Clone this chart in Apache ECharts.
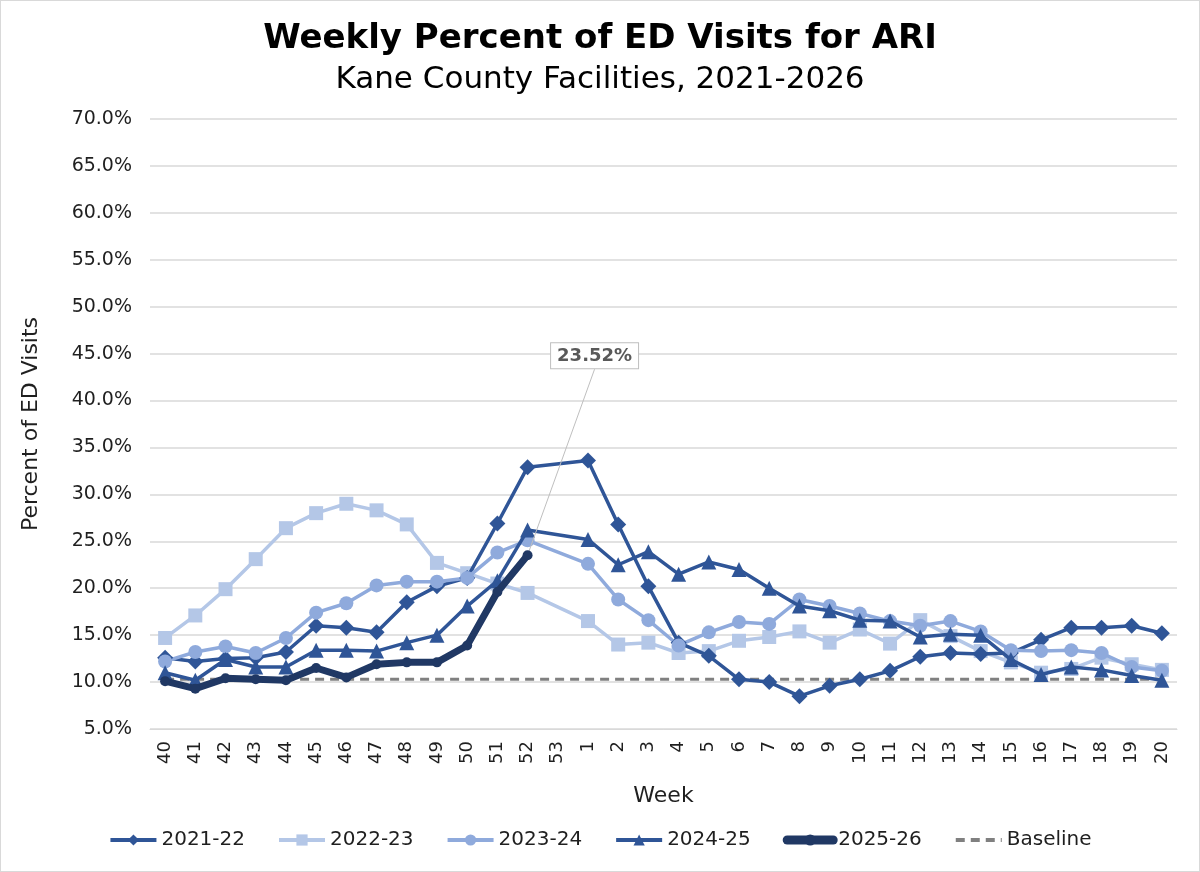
<!DOCTYPE html>
<html>
<head>
<meta charset="utf-8">
<script src="https://cdn.jsdelivr.net/npm/echarts@6/dist/echarts.min.js"></script>
<style>
html,body{margin:0;padding:0;background:#fff;}
#c{width:1198px;height:870px;border:1px solid #d9d9d9;}
</style>
</head>
<body>
<div id="c"></div>
<script>
var weeks = ['40','41','42','43','44','45','46','47','48','49','50','51','52','53','1','2','3','4','5','6','7','8','9','10','11','12','13','14','15','16','17','18','19','20'];
var s2122 = [12.6,12.2,12.5,12.6,13.2,16.0,15.8,15.3,18.5,20.2,21.1,26.9,32.9,'-',33.6,26.8,20.2,14.2,12.8,10.3,10.0,8.5,9.6,10.3,11.2,12.7,13.1,13.0,13.1,14.5,15.8,15.8,16.0,15.2];
var s2223 = [14.7,17.1,19.9,23.1,26.4,28.0,29.0,28.3,26.8,22.7,21.6,20.5,19.5,'-',16.5,14.0,14.2,13.1,13.3,14.4,14.8,15.4,14.2,15.6,14.1,16.6,14.9,13.3,12.1,11.0,11.4,12.6,11.9,11.3];
var s2324 = [12.2,13.2,13.8,13.1,14.7,17.4,18.4,20.3,20.7,20.7,21.1,23.8,25.1,'-',22.6,18.8,16.6,13.9,15.3,16.4,16.2,18.8,18.1,17.3,16.5,16.0,16.5,15.4,13.4,13.3,13.4,13.1,11.6,11.2];
var s2425 = [11.0,10.2,12.4,11.6,11.6,13.4,13.4,13.3,14.2,15.0,18.1,20.8,26.2,'-',25.2,22.5,23.9,21.5,22.8,22.0,20.0,18.1,17.6,16.6,16.5,14.8,15.1,15.0,12.4,10.8,11.6,11.3,10.7,10.2];
var s2526 = [10.1,9.3,10.4,10.3,10.2,11.5,10.5,11.9,12.1,12.1,13.9,19.6,23.52,'-','-','-','-','-','-','-','-','-','-','-','-','-','-','-','-','-','-','-','-','-'];
var baselineValue = 10.3;
var baseline = weeks.map(function(){ return baselineValue; });
var yTicks = ['5.0%','10.0%','15.0%','20.0%','25.0%','30.0%','35.0%','40.0%','45.0%','50.0%','55.0%','60.0%','65.0%','70.0%'];

var FONT = '"DejaVu Sans", Verdana, sans-serif';
var TXT = '#1f1f1f';

function mk(name, data, color, symbol, size, width, z) {
  return {
    name: name, type: 'line', data: data, connectNulls: true,
    symbol: symbol, symbolSize: size, z: z,
    lineStyle: {color: color, width: width},
    itemStyle: {color: color},
    emphasis: {disabled: true}
  };
}

var last = s2526.filter(function(v){return v !== '-';}).length - 1;
var s2526Data = s2526.map(function(v, i){
  if (i === last) {
    return {value: v, label: {show: true, formatter: v.toFixed(2) + '%'}};
  }
  return v;
});

var series = [
  mk('2021-22', s2122, '#2F5597', 'diamond', 16, 3.5, 3),
  mk('2022-23', s2223, '#B4C7E7', 'rect', 14, 3.5, 2),
  mk('2023-24', s2324, '#8FAADC', 'circle', 14, 3.5, 3),
  mk('2024-25', s2425, '#2F5597', 'triangle', 15, 3.5, 4),
  mk('2025-26', s2526Data, '#203864', 'circle', 10, 7, 6),
  {
    name: 'Baseline', type: 'line', data: baseline, symbol: 'none', z: 1,
    lineStyle: {color: '#808080', width: 3, type: [9, 6]},
    itemStyle: {color: '#808080'},
    emphasis: {disabled: true}
  }
];
series[4].label = {
  show: false, position: 'top',
  fontFamily: FONT, fontSize: 18, fontWeight: 'bold', color: '#595959',
  backgroundColor: '#fff', borderColor: '#bfbfbf', borderWidth: 1,
  padding: [4, 6, 3, 6]
};
series[4].labelLayout = {dx: 67, dy: -177};
series[4].labelLine = {show: true, lineStyle: {color: '#bfbfbf', width: 1}};

var chart = echarts.init(document.getElementById('c'), null, {renderer: 'canvas'});
chart.setOption({
  animation: false,
  backgroundColor: '#fff',
  title: {
    text: 'Weekly Percent of ED Visits for ARI',
    subtext: 'Kane County Facilities, 2021-2026',
    left: 'center', top: 16, itemGap: 8,
    textStyle: {fontFamily: FONT, fontSize: 34, fontWeight: 'bold', color: '#000'},
    subtextStyle: {fontFamily: FONT, fontSize: 31, color: '#000'}
  },
  legend: {
    bottom: 16, left: 'center', itemWidth: 46, itemHeight: 14, itemGap: 32,
    textStyle: {fontFamily: FONT, fontSize: 20, color: TXT},
    data: [
      {name: '2021-22', lineStyle: {width: 4}},
      {name: '2022-23', lineStyle: {width: 4}},
      {name: '2023-24', lineStyle: {width: 4}},
      {name: '2024-25', lineStyle: {width: 4}},
      {name: '2025-26', lineStyle: {width: 9, cap: 'round'}},
      {name: 'Baseline', lineStyle: {width: 4}, itemStyle: {opacity: 0}}
    ]
  },
  grid: {left: 149, right: 22, top: 118, bottom: 142},
  xAxis: {
    type: 'category', data: weeks, boundaryGap: true,
    name: 'Week', nameLocation: 'middle', nameGap: 56,
    nameTextStyle: {fontFamily: FONT, fontSize: 22, color: TXT},
    axisLine: {show: true, lineStyle: {color: '#d9d9d9'}},
    axisTick: {show: false},
    axisLabel: {rotate: 90, fontFamily: FONT, fontSize: 18, color: TXT, margin: 12, interval: 0}
  },
  yAxis: {
    type: 'value', min: 5, max: 70, interval: 5,
    name: 'Percent of ED Visits', nameLocation: 'middle', nameGap: 108,
    nameTextStyle: {fontFamily: FONT, fontSize: 22, color: TXT},
    axisLine: {show: false}, axisTick: {show: false},
    splitLine: {lineStyle: {color: '#d9d9d9', width: 1.5}},
    axisLabel: {
      fontFamily: FONT, fontSize: 19, color: TXT, margin: 18,
      formatter: function(v){ return yTicks[Math.round((v - 5) / 5)]; }
    }
  },
  series: series
});
</script>
</body>
</html>
